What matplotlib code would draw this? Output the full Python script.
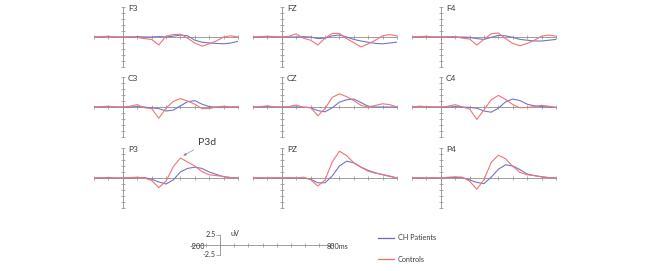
import matplotlib
matplotlib.use("Agg")
import matplotlib.pyplot as plt

plt.rcParams['font.family'] = ['Lato', 'DejaVu Sans']

# ---------------- data ----------------
times = [-200, -150, -100, -50, 0, 50, 100, 150, 200, 250, 300,
         350, 400, 450, 500, 550, 600, 650, 700, 750, 800]

electrodes = ["F3", "FZ", "F4", "C3", "CZ", "C4", "P3", "PZ", "P4"]

controls_F3 = [0, 0.1, 0.2, 0, 0, 0.1, -0.1, -0.4, -0.6, -2.0, 0.2, 0.6, 0.7, -0.3, -1.5, -2.3, -1.7, -1.0, 0.0, 0.3, 0.0]
patients_F3 = [0, 0, 0.1, 0, 0, 0, 0.1, 0, 0, 0.1, 0, 0.2, 0.5, 0.3, -0.8, -1.3, -1.5, -1.6, -1.7, -1.5, -1.1]

controls_FZ = [0, 0.1, 0.2, 0.1, 0, 0.2, 0.8, -0.3, -0.8, -2.0, -0.3, 0.9, 0.9, -0.4, -1.4, -2.5, -1.7, -0.8, 0.3, 0.6, 0.3]
patients_FZ = [0, 0, 0.1, 0, 0, 0, 0, 0.1, 0, -0.4, -0.3, 0.3, 0.5, 0, -0.6, -1.0, -1.3, -1.6, -1.7, -1.5, -1.3]

controls_F4 = [0, 0.1, 0.2, 0, 0, 0.1, 0.1, -0.3, -0.5, -2.0, -0.6, 0.8, 1.0, -0.4, -1.6, -2.2, -1.6, -0.8, 0.2, 0.5, 0.2]
patients_F4 = [0, 0, 0.1, 0, 0, 0, 0, 0, -0.1, -0.4, -0.6, -0.1, 0.4, 0.3, -0.1, -0.6, -0.8, -1.0, -1.0, -0.8, -0.6]

controls_C3 = [0, 0.1, 0.2, 0, 0, 0.2, 0.6, -0.2, -0.4, -2.8, -0.3, 1.4, 2.1, 1.5, 0.7, -0.4, -0.4, 0, 0.2, 0, 0.1]
patients_C3 = [0, 0, 0.1, 0, 0, 0, 0.1, 0, -0.2, -0.4, -1.0, -0.8, 0.3, 1.3, 1.6, 0.7, 0.1, 0, 0, 0, 0]

controls_CZ = [0, 0.1, 0.3, 0, 0, 0.1, 0.5, -0.1, -0.1, -2.2, -0.4, 2.4, 3.3, 2.6, 1.6, 0.4, 0, 0.4, 0.8, 0.6, 0]
patients_CZ = [0, 0, 0.1, 0, 0, 0, 0, 0, -0.2, -0.9, -1.2, -0.2, 1.2, 1.8, 2.0, 1.1, 0.2, 0, 0, 0, 0]

controls_C4 = [0, 0.2, 0.1, 0, 0, 0.2, 0.6, 0, -0.5, -3.1, -0.7, 1.8, 2.9, 1.9, 0.6, -0.2, -0.1, 0.1, 0.4, 0.2, -0.1]
patients_C4 = [0, 0.1, 0.1, 0, 0, 0, 0.1, 0, -0.1, -0.3, -1.0, -1.3, -0.3, 1.3, 2.0, 1.6, 0.7, 0.3, 0.1, 0, -0.1]

controls_P3 = [0, 0.1, 0, 0, 0, 0.1, 0.2, 0, -0.6, -2.4, -0.8, 2.8, 5.0, 4.0, 3.0, 1.6, 0.8, 0.6, 0.4, 0.1, 0]
patients_P3 = [0, 0, 0.1, 0, 0, 0, 0.1, 0.1, -0.3, -1.0, -1.5, -0.5, 1.5, 2.4, 2.7, 2.4, 1.5, 0.9, 0.3, 0.1, 0]

controls_PZ = [0, 0.1, 0, 0.1, 0, 0.1, 0, 0.2, -0.4, -2.0, -0.5, 4.0, 6.7, 5.6, 3.8, 2.7, 1.7, 1.2, 0.9, 0.5, 0]
patients_PZ = [0, 0, 0, 0, 0, 0, 0, 0, -0.3, -1.2, -1.2, 0.5, 3.0, 4.2, 3.8, 2.7, 1.9, 1.3, 0.8, 0.4, 0]

controls_P4 = [0, 0.1, 0, 0.1, 0, 0.2, 0.3, 0.2, -0.8, -2.8, -0.4, 3.9, 5.7, 4.8, 2.9, 1.4, 0.8, 0.6, 0.3, 0.1, 0]
patients_P4 = [0, 0, 0, 0, 0, 0.1, 0.1, 0.1, -0.5, -1.1, -1.4, 0.2, 2.2, 3.3, 3.0, 2.1, 1.0, 0.6, 0.3, 0.1, 0]

controls = [controls_F3, controls_FZ, controls_F4, controls_C3, controls_CZ,
            controls_C4, controls_P3, controls_PZ, controls_P4]
patients = [patients_F3, patients_FZ, patients_F4, patients_C3, patients_CZ,
            patients_C4, patients_P3, patients_PZ, patients_P4]

series_labels = ["CH Patients", "Controls"]
scale_labels = ["2.5", "-2.5", "uV", "-200", "800ms"]
annot_label = "P3d"

# ---------------- style ----------------
W, H = 650, 271
BLUE = '#7474c4'
RED = '#f27474'
AX = '#8e8e8e'
TXT = '#3a3a3a'

fig = plt.figure(figsize=(W / 100, H / 100), dpi=100)
fig.patch.set_facecolor('white')

col_x0 = [94, 253, 412]
row_base = [37, 107, 178]
pw, ph = 144, 60


def style_cross(ax, yt):
    for s in ['top', 'right']:
        ax.spines[s].set_visible(False)
    ax.spines['left'].set_position(('data', 0))
    ax.spines['bottom'].set_position(('data', 0))
    for s in ['left', 'bottom']:
        ax.spines[s].set_color(AX)
        ax.spines[s].set_linewidth(0.6)
    ax.set_xticks(range(-200, 801, 100))
    ax.set_yticks(yt)
    ax.set_xticklabels([])
    ax.set_yticklabels([])
    ax.tick_params(direction='inout', length=3, width=0.5, color=AX)
    ax.patch.set_alpha(0)


axes = []
for i, name in enumerate(electrodes):
    r, c = divmod(i, 3)
    left = col_x0[c] / W
    bottom = 1 - (row_base[r] + ph / 2) / H
    ax = fig.add_axes([left, bottom, pw / W, ph / H])
    ax.set_xlim(-200, 800)
    ax.set_ylim(-7.5, 7.5)
    style_cross(ax, [-7.5, -6, -4.5, -3, -1.5, 1.5, 3, 4.5, 6, 7.5])
    ax.plot(times, patients[i], color=BLUE, lw=0.8, zorder=3)
    ax.plot(times, controls[i], color=RED, lw=0.8, zorder=4)
    ax.text(35, 7.2, name, fontsize=6, color=TXT, ha='left', va='center',
            clip_on=False)
    axes.append(ax)

# P3d annotation
axes[6].annotate(annot_label, xy=(420, 5.6), xytext=(520, 8.8),
                 fontsize=7.5, color=TXT, ha='left', va='center',
                 annotation_clip=False,
                 arrowprops=dict(arrowstyle='-|>', color='#909090', lw=0.5,
                                 mutation_scale=4, shrinkA=1, shrinkB=0))

# scale bar
sax = fig.add_axes([192 / W, 1 - 254.5 / H, 141 / W, 20 / H])
sax.set_xlim(-200, 800)
sax.set_ylim(-2.5, 2.5)
style_cross(sax, [-2.5, 2.5])
sax.tick_params(axis='y', direction='out', length=3)
fs = 5.2
sax.text(-30, 2.5, scale_labels[0], fontsize=fs, color=TXT, ha='right', va='center', clip_on=False)
sax.text(-30, -2.4, scale_labels[1], fontsize=fs, color=TXT, ha='right', va='center', clip_on=False)
sax.text(70, 2.8, scale_labels[2], fontsize=fs, color=TXT, ha='left', va='center', clip_on=False)
sax.text(-215, -0.6, scale_labels[3], fontsize=fs, color=TXT, ha='left', va='center', clip_on=False)
sax.text(757, -0.6, scale_labels[4], fontsize=fs, color=TXT, ha='left', va='center', clip_on=False)

# legend
h1, = sax.plot([], [], color='#6a6ab4', lw=0.9)
h2, = sax.plot([], [], color='#ef6c6c', lw=0.9)
fig.legend([h1, h2], series_labels, loc='center left',
           bbox_to_anchor=(374 / W, 1 - 248.5 / H), frameon=False,
           fontsize=5.2, handlelength=2.3, handletextpad=0.5,
           labelspacing=2.0, borderpad=0, labelcolor=TXT)

fig.savefig('out.png', dpi=100, facecolor='white')
